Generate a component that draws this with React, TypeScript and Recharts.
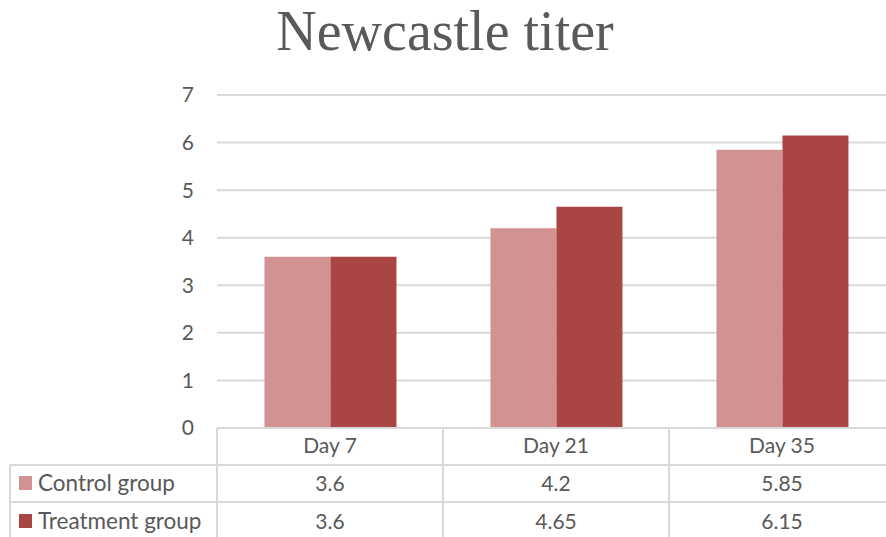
import React from 'react'
import { BarChart, Bar, XAxis, YAxis, CartesianGrid, Customized } from 'recharts'

const categories = ['Day 7', 'Day 21', 'Day 35']
const controlValues = [3.6, 4.2, 5.85]
const treatmentValues = [3.6, 4.65, 6.15]
const controlLabels = ['3.6', '4.2', '5.85']
const treatmentLabels = ['3.6', '4.65', '6.15']
const yTicks = [0, 1, 2, 3, 4, 5, 6, 7]

const data = categories.map((day, i) => ({
  day,
  control: controlValues[i],
  treatment: treatmentValues[i],
}))

const CHART_W = 900
const CHART_H = 537
const PLOT_LEFT = 217
const PLOT_RIGHT = 895
const PLOT_TOP = 95
const PLOT_BOTTOM = 428
const BAND = (PLOT_RIGHT - PLOT_LEFT) / categories.length

const TEXT = '#595959'
const LINE = '#d9d9d9'
const CONTROL = '#d39292'
const TREATMENT = '#a94543'
const FONT = 'Lato, "Open Sans", sans-serif'

// x axis ticks double as the data table under the plot
const TableTick = ({ x, y, payload, index }: any) => {
  const left = x - BAND / 2
  return (
    <g>
      {index === 0 && (
        <g>
          <line x1={10} x2={PLOT_RIGHT} y1={y + 37} y2={y + 37} stroke={LINE} strokeWidth={2} />
          <line x1={10} x2={PLOT_RIGHT} y1={y + 74} y2={y + 74} stroke={LINE} strokeWidth={2} />
          <line x1={10} x2={10} y1={y + 37} y2={CHART_H} stroke={LINE} strokeWidth={2} />
          <rect x={19} y={y + 48} width={13} height={14} fill={CONTROL} />
          <text x={38} y={y + 63} fill={TEXT} fontSize={22.5} fontFamily={FONT}>Control group</text>
          <rect x={19} y={y + 86} width={13} height={14} fill={TREATMENT} />
          <text x={38} y={y + 101} fill={TEXT} fontSize={22.5} fontFamily={FONT}>Treatment group</text>
        </g>
      )}
      <line x1={left} x2={left} y1={y} y2={CHART_H} stroke={LINE} strokeWidth={2} />
      <text x={x} y={y + 25} textAnchor="middle" fill={TEXT} fontSize={21} fontFamily={FONT}>
        {payload.value}
      </text>
      <text x={x} y={y + 63} textAnchor="middle" fill={TEXT} fontSize={21} fontFamily={FONT}>
        {controlLabels[index]}
      </text>
      <text x={x} y={y + 101} textAnchor="middle" fill={TEXT} fontSize={21} fontFamily={FONT}>
        {treatmentLabels[index]}
      </text>
    </g>
  )
}

const Title = () => (
  <text
    x={445}
    y={50}
    textAnchor="middle"
    fill={TEXT}
    fontSize={56}
    fontFamily='"Liberation Serif", serif'
  >
    Newcastle titer
  </text>
)

export default function App() {
  return (
    <div style={{ position: 'absolute', left: 0, top: 0, width: 886, height: 537, overflow: 'hidden', background: '#fff' }}>
      <BarChart
        width={CHART_W}
        height={CHART_H}
        data={data}
        margin={{ top: PLOT_TOP, right: CHART_W - PLOT_RIGHT, left: PLOT_LEFT - 60, bottom: 0 }}
        barCategoryGap="21%"
        barGap={0}
      >
        <CartesianGrid vertical={false} stroke={LINE} strokeWidth={2} />
        <XAxis
          dataKey="day"
          height={CHART_H - PLOT_BOTTOM}
          axisLine={{ stroke: LINE, strokeWidth: 2 }}
          tickLine={false}
          tickSize={0}
          tickMargin={0}
          interval={0}
          tick={<TableTick />}
        />
        <YAxis
          width={60}
          domain={[0, 7]}
          ticks={yTicks}
          axisLine={false}
          tickLine={false}
          tickSize={0}
          tickMargin={23}
          tick={{ fill: TEXT, fontSize: 21, fontFamily: FONT }}
        />
        <Bar dataKey="control" fill={CONTROL} isAnimationActive={false} />
        <Bar dataKey="treatment" fill={TREATMENT} isAnimationActive={false} />
        <Customized component={Title} />
      </BarChart>
    </div>
  )
}
